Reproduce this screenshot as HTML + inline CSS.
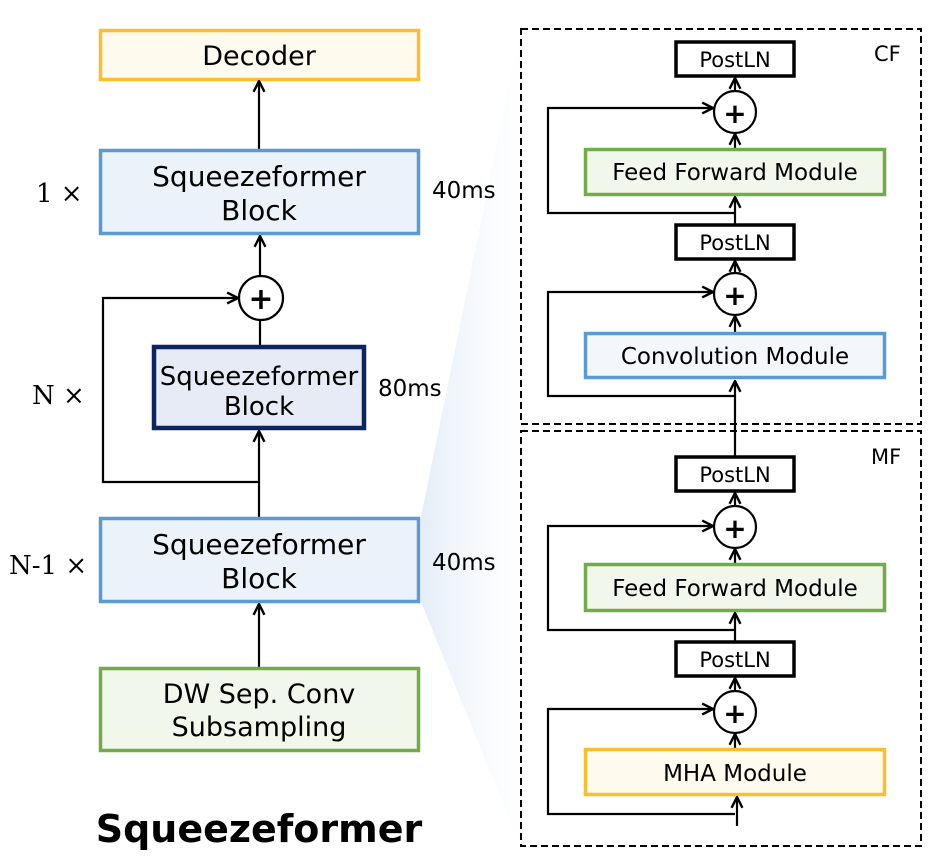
<!DOCTYPE html>
<html><head><meta charset="utf-8"><style>
html,body{margin:0;padding:0;background:#fff;}
svg{display:block;}
text{font-family:"DejaVu Sans","Liberation Sans",sans-serif;fill:#000;}
</style></head><body>
<svg width="943" height="868" viewBox="0 0 943 868" xmlns="http://www.w3.org/2000/svg">
<defs>
<marker id="a" viewBox="0 0 12 12" refX="11" refY="6" markerWidth="13" markerHeight="13" orient="auto" markerUnits="userSpaceOnUse">
<path d="M1,1 L11,6 L1,11" fill="none" stroke="#000" stroke-width="2.2"/>
</marker>
<linearGradient id="g" x1="0" y1="0" x2="1" y2="0">
<stop offset="0" stop-color="#dce8f6" stop-opacity="0.8"/>
<stop offset="1" stop-color="#f4f8fc" stop-opacity="0.1"/>
</linearGradient>
</defs>
<polygon points="421,517 520,30 520,845 421,602" fill="url(#g)"/>

<!-- Left column -->
<rect x="100.5" y="30.5" width="318" height="49" fill="#FFFAEE" stroke="#FBBF2D" stroke-width="3.5"/>
<text x="259" y="65" font-size="27" text-anchor="middle">Decoder</text>
<line x1="259" y1="150" x2="259" y2="81" stroke="#000" stroke-width="2.2" marker-end="url(#a)"/>

<rect x="100.5" y="150.5" width="318" height="83" fill="#EBF2FA" stroke="#5B9BD5" stroke-width="3.5"/>
<text x="259" y="186" font-size="28" text-anchor="middle">Squeezeformer</text>
<text x="259" y="220" font-size="28" text-anchor="middle">Block</text>
<line x1="260" y1="276" x2="260" y2="236" stroke="#000" stroke-width="2.2" marker-end="url(#a)"/>

<circle cx="261" cy="298" r="22" fill="#fff" stroke="#000" stroke-width="2.2"/>
<text x="261" y="309" font-size="30" font-weight="bold" text-anchor="middle">+</text>
<line x1="260" y1="320" x2="260" y2="345" stroke="#000" stroke-width="2.2"/>

<rect x="154" y="347" width="210" height="81" fill="#E6EBF6" stroke="#0B2560" stroke-width="4.5"/>
<text x="259" y="385" font-size="26" text-anchor="middle">Squeezeformer</text>
<text x="259" y="415" font-size="26" text-anchor="middle">Block</text>

<polyline points="258,482 103,482 103,298 238,298" fill="none" stroke="#000" stroke-width="2.2" marker-end="url(#a)"/>
<line x1="259" y1="518" x2="259" y2="431" stroke="#000" stroke-width="2.2" marker-end="url(#a)"/>

<rect x="100.5" y="518.5" width="318" height="83" fill="#EBF2FA" stroke="#5B9BD5" stroke-width="3.5"/>
<text x="259" y="554" font-size="28" text-anchor="middle">Squeezeformer</text>
<text x="259" y="588" font-size="28" text-anchor="middle">Block</text>
<line x1="259" y1="667" x2="259" y2="604" stroke="#000" stroke-width="2.2" marker-end="url(#a)"/>

<rect x="100.5" y="668.5" width="318" height="82" fill="#F2F7EC" stroke="#70AD47" stroke-width="3.5"/>
<text x="259" y="703" font-size="27" text-anchor="middle">DW Sep. Conv</text>
<text x="259" y="736" font-size="27" text-anchor="middle">Subsampling</text>

<text x="36" y="202" font-size="26" style="font-family:'DejaVu Serif','Liberation Serif',serif">1 ×</text>
<text x="32" y="404" font-size="26" style="font-family:'DejaVu Serif','Liberation Serif',serif">N ×</text>
<text x="9" y="574" font-size="26" style="font-family:'DejaVu Serif','Liberation Serif',serif">N-1 ×</text>
<text x="432" y="198" font-size="23">40ms</text>
<text x="378" y="396" font-size="23">80ms</text>
<text x="432" y="570" font-size="23">40ms</text>
<text x="259" y="842" font-size="38" font-weight="bold" text-anchor="middle">Squeezeformer</text>

<!-- Right panels -->
<rect x="521" y="29" width="400" height="395" fill="none" stroke="#000" stroke-width="2" stroke-dasharray="7,4"/>
<rect x="521" y="431" width="400" height="415" fill="none" stroke="#000" stroke-width="2" stroke-dasharray="7,4"/>
<text x="874" y="61" font-size="21">CF</text>
<text x="871" y="464" font-size="21">MF</text>

<!-- CF -->
<rect x="676" y="42" width="118" height="34" fill="#fff" stroke="#000" stroke-width="3.5"/>
<text x="735" y="67" font-size="21" text-anchor="middle">PostLN</text>
<line x1="735" y1="91" x2="735" y2="78" stroke="#000" stroke-width="2.2" marker-end="url(#a)"/>
<circle cx="735" cy="112" r="21" fill="#fff" stroke="#000" stroke-width="2.2"/>
<text x="735" y="123" font-size="28" font-weight="bold" text-anchor="middle">+</text>
<line x1="735" y1="148" x2="735" y2="134" stroke="#000" stroke-width="2.2" marker-end="url(#a)"/>
<rect x="585.5" y="149.5" width="299" height="45" fill="#F2F7EC" stroke="#70AD47" stroke-width="3.5"/>
<text x="735" y="180" font-size="23" text-anchor="middle">Feed Forward Module</text>
<line x1="735" y1="224" x2="735" y2="197" stroke="#000" stroke-width="2.2" marker-end="url(#a)"/>
<polyline points="735,213 548,213 548,108 713,108" fill="none" stroke="#000" stroke-width="2.2" marker-end="url(#a)"/>
<rect x="676" y="225" width="118" height="34" fill="#fff" stroke="#000" stroke-width="3.5"/>
<text x="735" y="250" font-size="21" text-anchor="middle">PostLN</text>
<line x1="735" y1="273" x2="735" y2="261" stroke="#000" stroke-width="2.2" marker-end="url(#a)"/>
<circle cx="735" cy="294" r="21" fill="#fff" stroke="#000" stroke-width="2.2"/>
<text x="735" y="305" font-size="28" font-weight="bold" text-anchor="middle">+</text>
<line x1="735" y1="332" x2="735" y2="316" stroke="#000" stroke-width="2.2" marker-end="url(#a)"/>
<polyline points="735,396 548,396 548,292 713,292" fill="none" stroke="#000" stroke-width="2.2" marker-end="url(#a)"/>
<rect x="585.5" y="333.5" width="299" height="44" fill="#F3F7FC" stroke="#5B9BD5" stroke-width="3.5"/>
<text x="735" y="364" font-size="23" text-anchor="middle">Convolution Module</text>
<line x1="735" y1="457" x2="735" y2="381" stroke="#000" stroke-width="2.2" marker-end="url(#a)"/>

<!-- MF -->
<rect x="676" y="457" width="118" height="34" fill="#fff" stroke="#000" stroke-width="3.5"/>
<text x="735" y="482" font-size="21" text-anchor="middle">PostLN</text>
<line x1="735" y1="506" x2="735" y2="493" stroke="#000" stroke-width="2.2" marker-end="url(#a)"/>
<circle cx="735" cy="527" r="21" fill="#fff" stroke="#000" stroke-width="2.2"/>
<text x="735" y="538" font-size="28" font-weight="bold" text-anchor="middle">+</text>
<line x1="735" y1="563" x2="735" y2="549" stroke="#000" stroke-width="2.2" marker-end="url(#a)"/>
<rect x="585.5" y="564.5" width="299" height="46" fill="#F2F7EC" stroke="#70AD47" stroke-width="3.5"/>
<text x="735" y="596" font-size="23" text-anchor="middle">Feed Forward Module</text>
<line x1="735" y1="641" x2="735" y2="613" stroke="#000" stroke-width="2.2" marker-end="url(#a)"/>
<polyline points="735,630 548,630 548,526 713,526" fill="none" stroke="#000" stroke-width="2.2" marker-end="url(#a)"/>
<rect x="676" y="642" width="118" height="34" fill="#fff" stroke="#000" stroke-width="3.5"/>
<text x="735" y="667" font-size="21" text-anchor="middle">PostLN</text>
<line x1="735" y1="691" x2="735" y2="678" stroke="#000" stroke-width="2.2" marker-end="url(#a)"/>
<circle cx="735" cy="712" r="21" fill="#fff" stroke="#000" stroke-width="2.2"/>
<text x="735" y="723" font-size="28" font-weight="bold" text-anchor="middle">+</text>
<line x1="735" y1="748" x2="735" y2="734" stroke="#000" stroke-width="2.2" marker-end="url(#a)"/>
<polyline points="735,814 548,814 548,709 713,709" fill="none" stroke="#000" stroke-width="2.2" marker-end="url(#a)"/>
<rect x="585.5" y="749.5" width="299" height="45" fill="#FFFAEE" stroke="#FBBF2D" stroke-width="3.5"/>
<text x="735" y="781" font-size="23" text-anchor="middle">MHA Module</text>
<line x1="737" y1="826" x2="737" y2="797" stroke="#000" stroke-width="2.2" marker-end="url(#a)"/>
</svg>
</body></html>
